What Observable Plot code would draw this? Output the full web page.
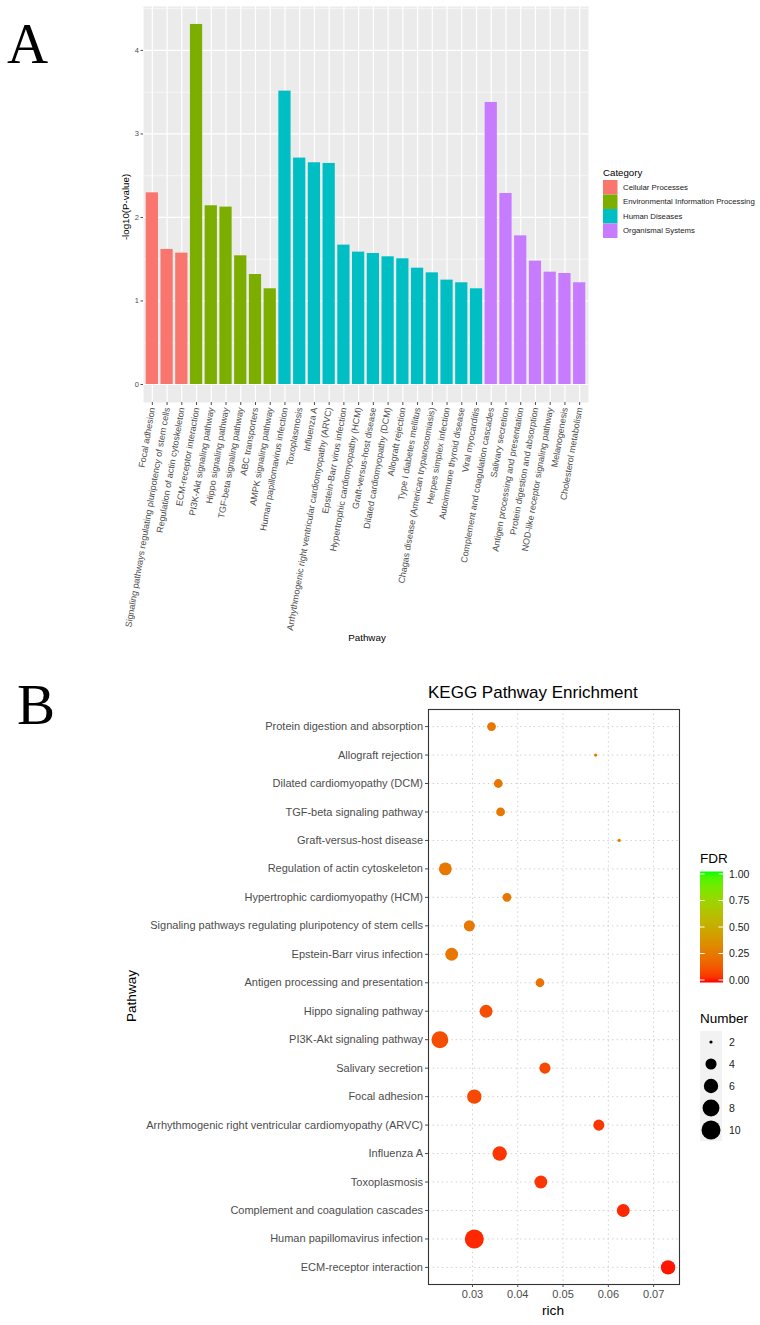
<!DOCTYPE html>
<html><head><meta charset="utf-8">
<script src="https://cdn.jsdelivr.net/npm/d3@7"></script>
<script src="https://cdn.jsdelivr.net/npm/@observablehq/plot@0.6"></script>
<style>
body{margin:0;background:#fff;}
#root{position:relative;width:760px;height:1325px;overflow:hidden;background:#fff;font-family:"Liberation Sans",Arial,sans-serif;}
</style></head><body><div id="root"></div>
<script>
// ---------- Panel A data ----------
const pathwaysA = [
  "Focal adhesion","Signaling pathways regulating pluripotency of stem cells","Regulation of actin cytoskeleton",
  "ECM-receptor interaction","PI3K-Akt signaling pathway","Hippo signaling pathway","TGF-beta signaling pathway","ABC transporters","AMPK signaling pathway",
  "Human papillomavirus infection","Toxoplasmosis","Influenza A","Arrhythmogenic right ventricular cardiomyopathy (ARVC)","Epstein-Barr virus infection","Hypertrophic cardiomyopathy (HCM)","Graft-versus-host disease","Dilated cardiomyopathy (DCM)","Allograft rejection","Type I diabetes mellitus","Chagas disease (American trypanosomiasis)","Herpes simplex infection","Autoimmune thyroid disease","Viral myocarditis",
  "Complement and coagulation cascades","Salivary secretion","Antigen processing and presentation","Protein digestion and absorption","NOD-like receptor signaling pathway","Melanogenesis","Cholesterol metabolism"
];
const categoryOfA = [
  "Cellular Processes","Cellular Processes","Cellular Processes",
  "Environmental Information Processing","Environmental Information Processing","Environmental Information Processing","Environmental Information Processing","Environmental Information Processing","Environmental Information Processing",
  "Human Diseases","Human Diseases","Human Diseases","Human Diseases","Human Diseases","Human Diseases","Human Diseases","Human Diseases","Human Diseases","Human Diseases","Human Diseases","Human Diseases","Human Diseases","Human Diseases",
  "Organismal Systems","Organismal Systems","Organismal Systems","Organismal Systems","Organismal Systems","Organismal Systems","Organismal Systems"
];
const logPA = [2.295,1.617,1.573, 4.311,2.140,2.124,1.541,1.317,1.146, 3.513,2.711,2.655,2.647,1.669,1.585,1.569,1.529,1.505,1.393,1.337,1.250,1.218,1.146, 3.377,2.287,1.780,1.477,1.345,1.329,1.218];
const categoryNames = ["Cellular Processes","Environmental Information Processing","Human Diseases","Organismal Systems"];
const categoryColors = ["#F8766D","#7CAE00","#00BFC4","#C77CFF"];
const yTicksA = [0,1,2,3,4];
const yMinorA = [0.5,1.5,2.5,3.5,4.5];

// ---------- Panel B data ----------
const pathwaysB = [
  "Protein digestion and absorption","Allograft rejection","Dilated cardiomyopathy (DCM)","TGF-beta signaling pathway","Graft-versus-host disease",
  "Regulation of actin cytoskeleton","Hypertrophic cardiomyopathy (HCM)","Signaling pathways regulating pluripotency of stem cells","Epstein-Barr virus infection","Antigen processing and presentation",
  "Hippo signaling pathway","PI3K-Akt signaling pathway","Salivary secretion","Focal adhesion","Arrhythmogenic right ventricular cardiomyopathy (ARVC)",
  "Influenza A","Toxoplasmosis","Complement and coagulation cascades","Human papillomavirus infection","ECM-receptor interaction"
];
const richB   = [0.0342,0.0572,0.0357,0.0362,0.0624,0.0240,0.0376,0.0293,0.0254,0.0449,0.0330,0.0228,0.0460,0.0304,0.0579,0.0360,0.0451,0.0633,0.0304,0.0732];
const numberB = [3,2,3,3,2,5,3,4,5,3,5,8,4,6,4,6,5,5,10,6];
const fdrB    = [0.25,0.25,0.25,0.25,0.25,0.25,0.25,0.25,0.25,0.23,0.11,0.11,0.095,0.095,0.055,0.055,0.055,0.03,0.03,0.012];
const richTicks = [0.03,0.04,0.05,0.06,0.07];
const fdrTicks = [0,0.25,0.5,0.75,1];
const numberTicks = [2,4,6,8,10];

const FONT = "Liberation Sans, Arial, sans-serif";
const root = document.getElementById("root");

// ---------- Panel A ----------
const dataA = pathwaysA.map((p,i)=>({pathway:p, category:categoryOfA[i], value:logPA[i]}));
const plotA = Plot.plot({
  width:760, height:660, marginLeft:143, marginRight:172, marginTop:6, marginBottom:258,
  style:{fontFamily:FONT, background:"transparent", overflow:"visible"},
  x:{type:"band", domain:pathwaysA, paddingInner:0.17, paddingOuter:0.185, round:false},
  y:{domain:[-0.2155,4.526]},
  color:{domain:categoryNames, range:categoryColors},
  marks:[
    Plot.frame({fill:"#EBEBEB", stroke:"none"}),
    Plot.ruleY(yMinorA, {stroke:"#FFFFFF", strokeWidth:0.6}),
    Plot.ruleY(yTicksA, {stroke:"#FFFFFF", strokeWidth:1.2}),
    Plot.ruleX(pathwaysA, {x:d=>d, stroke:"#FFFFFF", strokeWidth:1.2}),
    Plot.barY(dataA, {x:"pathway", y:"value", fill:"category"}),
    Plot.axisY({ticks:yTicksA, tickFormat:d3.format("d"), tickSize:2.5, tickPadding:2, fontSize:7.5, color:"#4D4D4D", label:null}),
    Plot.axisX({tickSize:3, tickPadding:2, tickRotate:-80, fontSize:9, color:"#4D4D4D", label:null})
  ]
});

// ---------- Panel B ----------
const dataB = pathwaysB.map((p,i)=>({pathway:p, rich:richB[i], number:numberB[i], fdr:fdrB[i]}));
const plotB = Plot.plot({
  width:760, height:685, marginLeft:428, marginRight:81, marginTop:69, marginBottom:41,
  style:{fontFamily:FONT, background:"transparent", overflow:"visible"},
  x:{domain:[0.02028,0.07572]},
  y:{type:"point", domain:pathwaysB, padding:0.6, round:false},
  color:{type:"linear", domain:[0,1], range:["#FF0000","#00FF00"], interpolate:"lab"},
  r:{type:"sqrt", domain:[0,8], range:[1.6,9.5]},
  marks:[
    Plot.ruleX(richTicks, {stroke:"#CFCFCF", strokeWidth:1, strokeDasharray:"1.4,3.2"}),
    Plot.ruleY(pathwaysB, {y:d=>d, stroke:"#CFCFCF", strokeWidth:1, strokeDasharray:"1.4,3.2"}),
    Plot.dot(dataB, {x:"rich", y:"pathway", r:d=>d.number-2, fill:"fdr"}),
    Plot.frame({stroke:"#333333", strokeWidth:1.1}),
    Plot.axisY({tickSize:3, tickPadding:2.5, fontSize:11, color:"#4D4D4D", label:null}),
    Plot.axisX({ticks:richTicks, tickFormat:d3.format(".2f"), tickSize:3, tickPadding:2.5, fontSize:11, color:"#4D4D4D", label:null})
  ]
});

function place(el, left, top){ el.style.position="absolute"; el.style.left=left+"px"; el.style.top=top+"px"; root.appendChild(el); }
place(plotA, 0, 0);
place(plotB, 0, 640);

// ---------- overlay text & legends ----------
const ov = d3.select(root).append("svg")
  .attr("width",760).attr("height",1325)
  .style("position","absolute").style("left","0").style("top","0")
  .style("font-family",FONT);

function txt(s, x, y, size, o={}){
  const t = ov.append("text").text(s)
    .attr("font-size", size)
    .attr("fill", o.fill || "#000")
    .attr("text-anchor", o.anchor || "start");
  if (o.family) t.attr("font-family", o.family);
  if (o.rotate) t.attr("transform", `translate(${x},${y}) rotate(${o.rotate})`);
  else t.attr("x", x).attr("y", y);
  return t;
}

// panel letters
txt("A", 7, 63, 57, {family:"Liberation Serif, Times New Roman, serif"});
txt("B", 17, 724, 57, {family:"Liberation Serif, Times New Roman, serif"});

// panel A titles
txt("-log10(P-value)", 129, 207, 9.7, {anchor:"middle", rotate:-90});
txt("Pathway", 367, 640.5, 9.8, {anchor:"middle"});

// panel A legend
txt("Category", 603, 175.5, 9.7);
categoryNames.forEach((c,i)=>{
  const y0 = 180 + i*14.5;
  ov.append("rect").attr("x",603).attr("y",y0).attr("width",14.5).attr("height",14.5).attr("fill",categoryColors[i]);
  txt(c, 623, y0 + 7.25 + 2.7, 7.8, {fill:"#1A1A1A"});
});

// panel B titles
txt("KEGG Pathway Enrichment", 428, 698, 17);
txt("Pathway", 136, 996, 13.6, {anchor:"middle", rotate:-90});
txt("rich", 553, 1315, 13.7, {anchor:"middle"});

// FDR colorbar
const cs = plotB.scale("color");
const grad = ov.append("defs").append("linearGradient").attr("id","fdrgrad")
  .attr("x1",0).attr("y1",1).attr("x2",0).attr("y2",0);
d3.range(0,1.0001,0.05).forEach(t=>{
  grad.append("stop").attr("offset",t).attr("stop-color",cs.apply(t));
});
txt("FDR", 700, 863, 13.5);
const barTop = 871.5, barBot = 982.5;
const fdrY = d3.scaleLinear().domain([0,1]).range([980, 874]);
ov.append("rect").attr("x",700).attr("y",barTop).attr("width",23).attr("height",barBot-barTop).attr("fill","url(#fdrgrad)");
fdrTicks.forEach(v=>{
  const y = fdrY(v);
  ov.append("line").attr("x1",700).attr("x2",704.6).attr("y1",y).attr("y2",y).attr("stroke","#fff").attr("stroke-width",1);
  ov.append("line").attr("x1",718.4).attr("x2",723).attr("y1",y).attr("y2",y).attr("stroke","#fff").attr("stroke-width",1);
  txt(d3.format(".2f")(v), 729, y+3.7, 10.5, {fill:"#1A1A1A"});
});

// Number legend
const rs = plotB.scale("r");
txt("Number", 700, 1023, 13.5);
numberTicks.forEach((n,i)=>{
  const cy = 1042 + i*22;
  ov.append("rect").attr("x",700).attr("y",cy-11).attr("width",22).attr("height",22).attr("fill","#F2F2F2");
  ov.append("circle").attr("cx",711).attr("cy",cy).attr("r",rs.apply(n-2)).attr("fill","#000");
  txt(String(n), 729, cy+3.7, 10.5, {fill:"#1A1A1A"});
});
</script>
</body></html>
